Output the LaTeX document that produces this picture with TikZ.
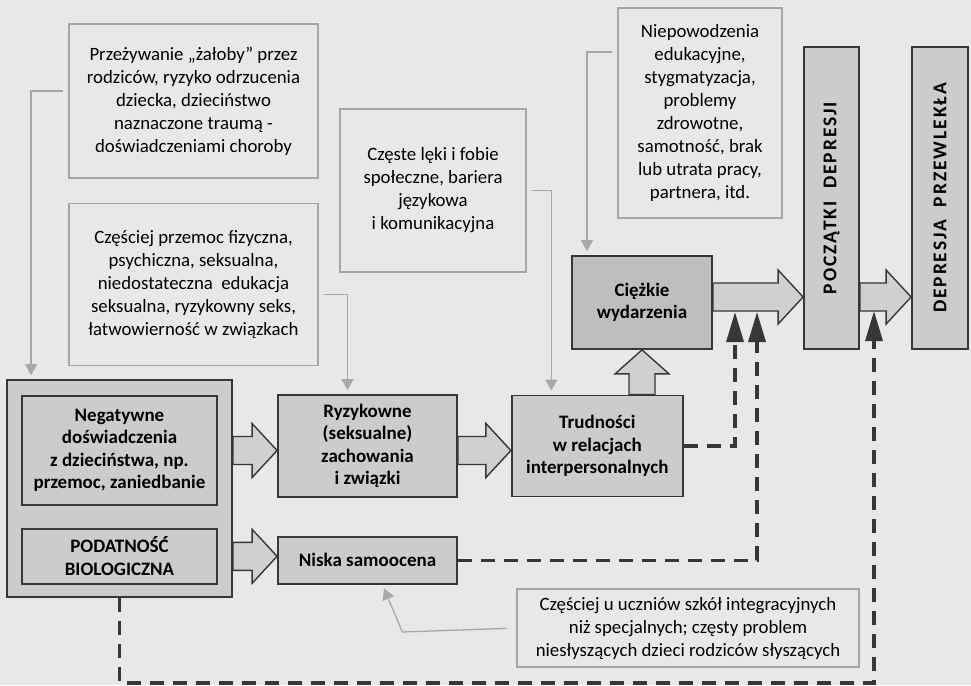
\documentclass[tikz,border=0pt]{standalone}
\usepackage{fontspec}
\setmainfont{Carlito}
\newfontfamily\stagefont[LetterSpace=10]{Carlito}
\usetikzlibrary{arrows.meta,positioning,calc}

\definecolor{paper}{RGB}{232,232,232}
\definecolor{framegray}{RGB}{165,165,165}
\definecolor{boxline}{RGB}{55,55,55}
\definecolor{boxgray}{RGB}{204,204,204}
\definecolor{heavygray}{RGB}{190,190,190}
\definecolor{arrowgray}{RGB}{208,208,208}
\definecolor{linkgray}{RGB}{168,168,168}

\begin{document}
\begin{tikzpicture}[
    x=1pt, y=-1pt,
    infobox/.style={rectangle, draw=framegray, line width=1.2pt, align=center, font=\fontsize{18.8}{23}\selectfont},
    box/.style={rectangle, draw=boxline, line width=1.8pt, fill=boxgray, align=center, font=\fontsize{19}{22.5}\selectfont\bfseries},
    fatright/.style={draw=boxline, line width=1.4pt, fill=arrowgray,
        to path={let \p1=(\tikztostart), \p2=(\tikztotarget) in
            (\x1,\y1+14pt) -- (\x2-25pt,\y1+14pt) -- (\x2-25pt,\y1+27pt) -- (\x2,\y1)
            -- (\x2-25pt,\y1-27pt) -- (\x2-25pt,\y1-14pt) -- (\x1,\y1-14pt) -- cycle}},
    fatup/.style={draw=boxline, line width=1.4pt, fill=arrowgray,
        to path={let \p1=(\tikztostart), \p2=(\tikztotarget) in
            (\x1-13pt,\y1) -- (\x1-13pt,\y2-24pt) -- (\x1-27pt,\y2-24pt) -- (\x1,\y2)
            -- (\x1+27pt,\y2-24pt) -- (\x1+13pt,\y2-24pt) -- (\x1+13pt,\y1) -- cycle}},
    link/.style={draw=linkgray, line width=1.3pt, -{Triangle[width=12pt,length=11pt]}, shorten <=5pt, shorten >=4pt},
    dashlink/.style={draw=boxline, line width=3.5pt, dash pattern=on 14pt off 9pt, -{Triangle[width=17pt,length=30pt]}},
    stage/.style={box, rotate=90, minimum width=302pt, minimum height=55pt, font=\stagefont\fontsize{19.5}{22}\selectfont\bfseries},
]
    \useasboundingbox (0,0) rectangle (971,685);
    \fill[paper] (0,0) rectangle (971,685);

    % background notes
    \node[infobox, minimum width=249pt, minimum height=154pt] (prz) at (193.5,101)
        {Przeżywanie „żałoby” przez\\rodziców, ryzyko odrzucenia\\dziecka, dzieciństwo\\naznaczone traumą -\\doświadczeniami choroby};
    \node[infobox, minimum width=249pt, minimum height=162pt, below=24pt of prz] (czp)
        {Częściej przemoc fizyczna,\\psychiczna, seksualna,\\niedostateczna~ edukacja\\seksualna, ryzykowny seks,\\łatwowierność w związkach};
    \node[infobox, minimum width=186pt, minimum height=163pt] (lek) at (433,190.5)
        {Częste lęki i fobie\\społeczne, bariera\\językowa\\i komunikacyjna};
    \node[infobox, minimum width=164pt, minimum height=210pt] (niep) at (700,113)
        {Niepowodzenia\\edukacyjne,\\stygmatyzacja,\\problemy\\zdrowotne,\\samotność, brak\\lub utrata pracy,\\partnera, itd.};
    \node[infobox, minimum width=342pt, minimum height=78pt] (uwaga) at (688,628)
        {Częściej u uczniów szkół integracyjnych\\niż specjalnych; częsty problem\\niesłyszących dzieci rodziców słyszących};

    % main chain
    \node[box, minimum width=225pt, minimum height=217pt] (outer) at (119.5,488.5) {};
    \node[box, minimum width=195pt, minimum height=109pt, below=16pt of outer.north] (neg)
        {Negatywne\\doświadczenia\\z dzieciństwa, np.\\przemoc, zaniedbanie};
    \node[box, minimum width=195pt, minimum height=55pt, below=22pt of neg] (pod)
        {PODATNOŚĆ\\BIOLOGICZNA};
    \node[box, minimum width=179pt, minimum height=102pt] (ryz) at (367.5,446)
        {Ryzykowne\\(seksualne)\\zachowania\\i związki};
    \node[box, minimum width=179pt, minimum height=47pt, below=38pt of ryz] (nisk) {Niska samoocena};
    \node[box, minimum width=171pt, minimum height=101pt, right=53pt of ryz] (trud)
        {Trudności\\w relacjach\\interpersonalnych};
    \node[box, fill=heavygray, minimum width=140pt, minimum height=93pt] (ciez) at (642,302.5)
        {Ciężkie\\wydarzenia};
    \node[stage] (pocz) at (831.5,198) {POCZĄTKI~~DEPRESJI};
    \node[stage, minimum height=56pt] (przew) at (940,198) {DEPRESJA~~PRZEWLEKŁA};

    \coordinate (mid) at ([yshift=5.5pt]ciez.east);
    \coordinate (j1) at (735,312);
    \coordinate (j2) at (757,312);
    \coordinate (j3) at (874,311);

    \draw[fatright] (outer.east |- neg.east) to (ryz.west |- neg.east);
    \draw[fatright] (outer.east |- pod.east) to (nisk.west |- pod.east);
    \draw[fatright] (ryz.east |- neg.east) to (trud.west |- neg.east);
    \draw[fatup] (ciez.south |- trud.north) to (ciez.south);
    \draw[fatright] (mid) to (mid -| pocz.north);
    \draw[fatright] (mid -| pocz.south) to (mid -| przew.north);

    \draw[link] ([yshift=10pt]prz.west) -| ([xshift=25pt]outer.north west);
    \draw[link] ([yshift=-10pt]czp.east) -| ([xshift=-20pt]ryz.north);
    \draw[link] (lek.east) -| ([xshift=-46pt]trud.north);
    \draw[link] ([yshift=61pt]niep.west) -| ([xshift=-55pt]ciez.north);
    \draw[link, shorten <=10pt] (uwaga.west) -- ++(-114,4) -- ([xshift=15pt]nisk.south);

    \draw[dashlink] (trud.east) -| (j1);
    \draw[dashlink] (nisk.east) -| (j2);
    \draw[dashlink] (outer.south) -- ++(0,85) -| (j3);
\end{tikzpicture}
\end{document}
